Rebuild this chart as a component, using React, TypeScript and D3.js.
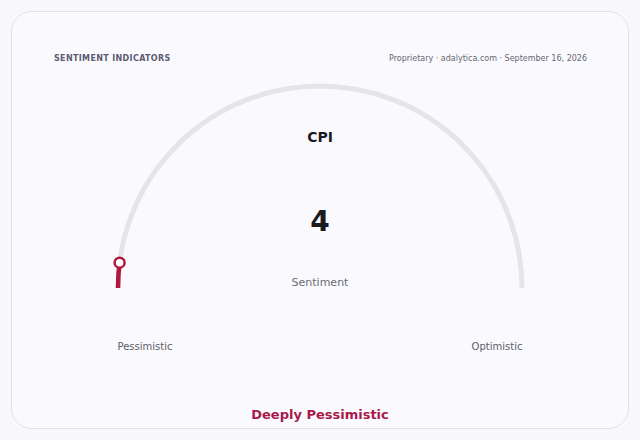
import React, { useEffect, useRef } from 'react';
import * as d3 from 'd3';

// gauge data
const indicatorNames = ['CPI'];
const indicatorValues = [4];
const scaleDomain = [0, 100];
const endLabels = ['Pessimistic', 'Optimistic'];
const verdictLabels = ['Deeply Pessimistic'];

const W = 640;
const H = 440;

const App: React.FC = () => {
  const svgRef = useRef<SVGSVGElement>(null);

  useEffect(() => {
    if (!svgRef.current) return;
    const svg = d3.select(svgRef.current);
    svg.selectAll('*').remove();

    const font = '"DejaVu Sans", sans-serif';
    const accent = '#b3173f';

    svg.append('rect').attr('width', W).attr('height', H).attr('fill', '#f8f8fc');

    svg.append('rect')
      .attr('x', 11.5).attr('y', 11.5)
      .attr('width', 617).attr('height', 417)
      .attr('rx', 20)
      .attr('fill', '#fafafe')
      .attr('stroke', '#e1e1ea')
      .attr('stroke-width', 1);

    svg.append('text')
      .attr('x', 54).attr('y', 61)
      .style('font-family', font)
      .style('font-size', '8px')
      .style('font-weight', 'bold')
      .style('letter-spacing', '0.35px')
      .style('fill', '#5c5c72')
      .text('SENTIMENT INDICATORS');

    svg.append('text')
      .attr('x', 587).attr('y', 61)
      .attr('text-anchor', 'end')
      .style('font-family', font)
      .style('font-size', '8px')
      .style('fill', '#666672')
      .text('Proprietary · adalytica.com · September 16, 2026');

    const cx = 320;
    const cy = 288;
    const radius = 202;

    // value -> angle, left end at -90deg, right at +90deg
    const angle = d3.scaleLinear().domain(scaleDomain).range([-Math.PI / 2, Math.PI / 2]);

    const g = svg.append('g').attr('transform', `translate(${cx},${cy})`);

    const arcLine = d3.arc<any>()
      .innerRadius(radius)
      .outerRadius(radius);

    g.append('path')
      .attr('d', arcLine({ startAngle: angle(scaleDomain[0]), endAngle: angle(scaleDomain[1]) }) as string)
      .attr('fill', 'none')
      .attr('stroke', '#e4e4ea')
      .attr('stroke-width', 5)
      .attr('stroke-linecap', 'round');

    const value = indicatorValues[0];
    g.append('path')
      .attr('d', arcLine({ startAngle: angle(scaleDomain[0]), endAngle: angle(value) }) as string)
      .attr('fill', 'none')
      .attr('stroke', accent)
      .attr('stroke-width', 4.5)
      .attr('stroke-linecap', 'round');

    const a = angle(value);
    g.append('circle')
      .attr('cx', radius * Math.sin(a))
      .attr('cy', -radius * Math.cos(a))
      .attr('r', 5)
      .attr('fill', '#ffffff')
      .attr('stroke', accent)
      .attr('stroke-width', 2.5);

    svg.append('text')
      .attr('x', cx).attr('y', 142)
      .attr('text-anchor', 'middle')
      .style('font-family', font)
      .style('font-size', '14px')
      .style('font-weight', 'bold')
      .style('fill', '#1a1a1f')
      .text(indicatorNames[0]);

    svg.append('text')
      .attr('x', cx).attr('y', 231)
      .attr('text-anchor', 'middle')
      .style('font-family', font)
      .style('font-size', '28px')
      .style('font-weight', 'bold')
      .style('fill', '#1a1a1f')
      .text(String(value));

    svg.append('text')
      .attr('x', cx).attr('y', 286)
      .attr('text-anchor', 'middle')
      .style('font-family', font)
      .style('font-size', '11px')
      .style('fill', '#6a6a74')
      .text('Sentiment');

    svg.append('text')
      .attr('x', 145).attr('y', 350)
      .attr('text-anchor', 'middle')
      .style('font-family', font)
      .style('font-size', '10px')
      .style('fill', '#5e5e68')
      .text(endLabels[0]);

    svg.append('text')
      .attr('x', 497).attr('y', 350)
      .attr('text-anchor', 'middle')
      .style('font-family', font)
      .style('font-size', '10px')
      .style('fill', '#5e5e68')
      .text(endLabels[1]);

    svg.append('text')
      .attr('x', cx).attr('y', 419)
      .attr('text-anchor', 'middle')
      .style('font-family', font)
      .style('font-size', '13px')
      .style('font-weight', 'bold')
      .style('fill', '#a81a4a')
      .text(verdictLabels[0]);
  }, []);

  return (
    <svg
      ref={svgRef}
      width={W}
      height={H}
      style={{ position: 'absolute', left: 0, top: 0, display: 'block' }}
    />
  );
};

export default App;
